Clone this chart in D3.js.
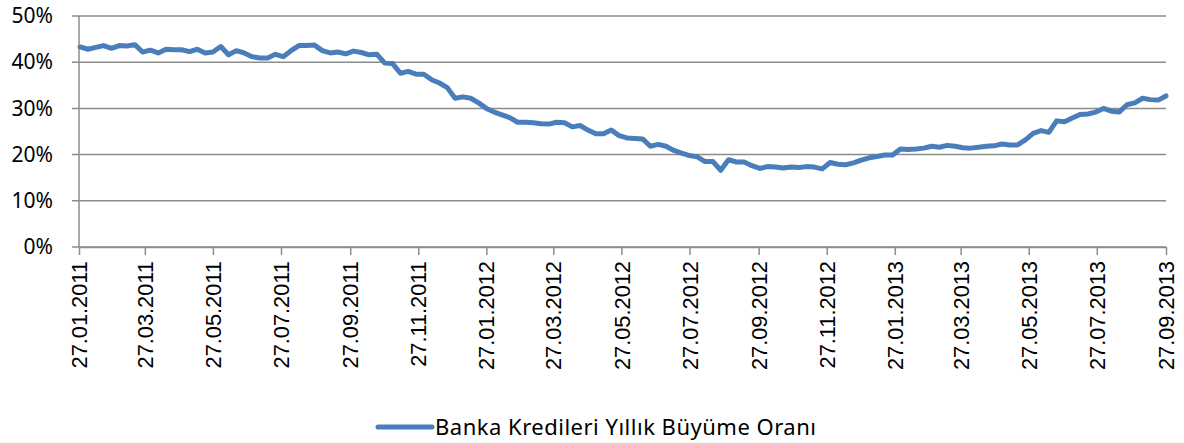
<!DOCTYPE html>
<html>
<head>
<meta charset="utf-8">
<script src="https://cdn.jsdelivr.net/npm/d3@7"></script>
<style>
  body { margin: 0; background: #fff; }
  svg { display: block; }
</style>
</head>
<body>
<script>
// weekly series, first week ending 28.01.2011
const firstWeek = "28.01.2011";
const growth = [
  43.3, 42.8, 43.2, 43.6, 43.0, 43.6, 43.5, 43.8, 42.2, 42.6,
  42.0, 42.8, 42.7, 42.7, 42.3, 42.8, 42.0, 42.2, 43.4, 41.6,
  42.5, 42.0, 41.2, 40.9, 40.9, 41.7, 41.2, 42.5, 43.6, 43.6,
  43.7, 42.5, 42.0, 42.2, 41.8, 42.4, 42.1, 41.6, 41.7, 39.8,
  39.7, 37.6, 38.0, 37.4, 37.4, 36.2, 35.5, 34.5, 32.2, 32.5,
  32.2, 31.2, 30.0, 29.2, 28.6, 28.0, 27.0, 27.0, 26.9, 26.7,
  26.6, 27.0, 26.9, 26.0, 26.3, 25.3, 24.5, 24.5, 25.3, 24.1,
  23.6, 23.5, 23.4, 21.8, 22.2, 21.8, 20.9, 20.3, 19.8, 19.5,
  18.5, 18.5, 16.6, 18.9, 18.4, 18.4, 17.6, 17.0, 17.4, 17.3,
  17.1, 17.3, 17.2, 17.4, 17.3, 16.9, 18.3, 17.9, 17.8, 18.2,
  18.8, 19.3, 19.6, 19.9, 19.9, 21.2, 21.1, 21.2, 21.4, 21.8,
  21.6, 22.0, 21.8, 21.5, 21.4, 21.6, 21.8, 21.9, 22.3, 22.1,
  22.1, 23.2, 24.6, 25.2, 24.8, 27.3, 27.1, 27.9, 28.7, 28.8,
  29.2, 30.0, 29.4, 29.2, 30.8, 31.2, 32.2, 31.9, 31.8, 32.7
];
const xTickLabels = [
  "27.01.2011", "27.03.2011", "27.05.2011", "27.07.2011", "27.09.2011",
  "27.11.2011", "27.01.2012", "27.03.2012", "27.05.2012", "27.07.2012",
  "27.09.2012", "27.11.2012", "27.01.2013", "27.03.2013", "27.05.2013",
  "27.07.2013", "27.09.2013"
];
const yTicks = [0, 0.1, 0.2, 0.3, 0.4, 0.5];
const seriesName = "Banka Kredileri Yıllık Büyüme Oranı";

const w = 1184;
const h = 443;
const parse = d3.timeParse("%d.%m.%Y");
const start = parse(firstWeek);
const dataset = growth.map((v, i) => ({ date: d3.timeDay.offset(start, i * 7), value: v / 100 }));
const tickDates = xTickLabels.map(parse);

const xScale = d3.scaleTime()
  .domain([tickDates[0], tickDates[tickDates.length - 1]])
  .range([79, 1166]);

const yScale = d3.scaleLinear()
  .domain([0, 0.5])
  .range([247, 16]);

const svg = d3.select("body").append("svg")
  .attr("width", w)
  .attr("height", h);

// gridlines
svg.append("g")
  .selectAll("line")
  .data(yTicks)
  .enter()
  .append("line")
  .attr("x1", 72)
  .attr("x2", 1166)
  .attr("y1", (d) => yScale(d))
  .attr("y2", (d) => yScale(d))
  .attr("stroke", "#8c8c8c")
  .attr("stroke-width", 1.5);

// y axis
const yAxis = d3.axisLeft(yScale)
  .tickValues(yTicks)
  .tickFormat(d3.format(".0%"))
  .tickSize(0)
  .tickPadding(26);

svg.append("g")
  .attr("transform", "translate(79,0)")
  .call(yAxis)
  .call((g) => g.select(".domain").remove())
  .selectAll("text")
  .attr("font-family", "'Noto Sans', sans-serif")
  .attr("font-size", 21)
  .attr("fill", "#000");

svg.append("line")
  .attr("x1", 79).attr("x2", 79)
  .attr("y1", 16).attr("y2", 247)
  .attr("stroke", "#8c8c8c")
  .attr("stroke-width", 1.5);

// x axis
const xAxis = d3.axisBottom(xScale)
  .tickValues(tickDates)
  .tickFormat(d3.timeFormat("%d.%m.%Y"))
  .tickSizeInner(8)
  .tickSizeOuter(0)
  .tickPadding(8);

const gx = svg.append("g")
  .attr("transform", "translate(0,247)")
  .call(xAxis);

gx.select(".domain").attr("stroke", "#8c8c8c").attr("stroke-width", 1.5);
gx.selectAll(".tick line").attr("stroke", "#8c8c8c").attr("stroke-width", 1.5);
gx.selectAll("text")
  .attr("font-family", "'Liberation Sans', Arial, sans-serif")
  .attr("font-size", 21.8)
  .attr("fill", "#000")
  .attr("text-anchor", "end")
  .attr("dy", "0.35em")
  .attr("transform", "translate(0,14) rotate(-90)")
  .attr("x", 0)
  .attr("y", 0);

// series line
const line = d3.line()
  .x((d) => xScale(d.date))
  .y((d) => yScale(d.value));

svg.append("path")
  .datum(dataset)
  .attr("d", line)
  .attr("fill", "none")
  .attr("stroke", "#4a7ebb")
  .attr("stroke-width", 5)
  .attr("stroke-linejoin", "round")
  .attr("stroke-linecap", "round");

// legend
const legend = svg.append("g").attr("transform", "translate(378,427)");
legend.append("line")
  .attr("x1", 0).attr("x2", 54)
  .attr("y1", 0).attr("y2", 0)
  .attr("stroke", "#4a7ebb")
  .attr("stroke-width", 5)
  .attr("stroke-linecap", "round");
legend.append("text")
  .attr("x", 57)
  .attr("y", 0)
  .attr("dy", "0.35em")
  .attr("font-family", "'Noto Sans', sans-serif")
  .attr("font-size", 22)
  .attr("letter-spacing", 0.5)
  .attr("fill", "#000")
  .text(seriesName);
</script>
</body>
</html>
